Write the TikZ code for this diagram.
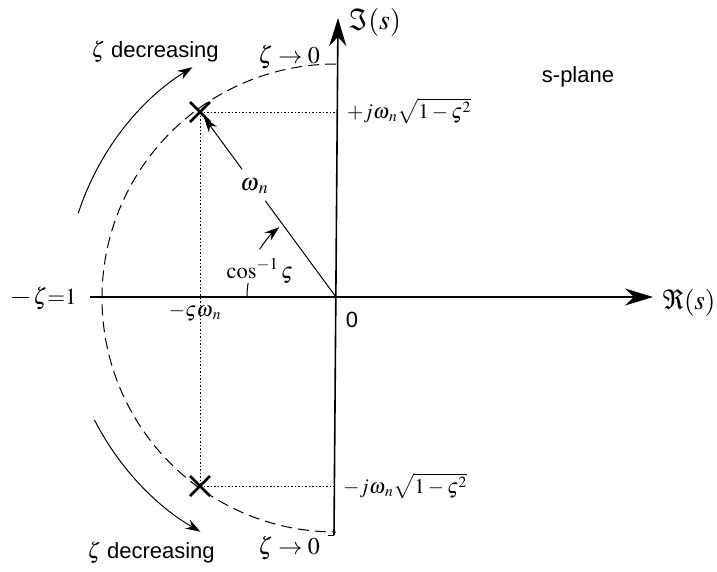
\documentclass[tikz,border=0pt]{standalone}
\usepackage{mathptmx}
\usepackage[no-math]{fontspec}
\setmainfont{Liberation Sans}
\usetikzlibrary{arrows.meta,calc}
\begin{document}
\begin{tikzpicture}[x=1pt,y=1pt,
  axis/.style={line width=1.6pt,-{Stealth[length=28pt,width=17pt,inset=9pt]}},
  thin arc/.style={line width=1pt},
  small arrow/.style={-{Stealth[length=15pt,width=10pt,inset=5pt]}},
  dashed circle/.style={line width=1pt,dash pattern=on 11pt off 6pt},
  dotted line/.style={line width=1pt,dash pattern=on 1.5pt off 2pt},
  pole/.style={line width=2.6pt},
  mlabel/.style={font=\fontsize{24}{28}\selectfont,inner sep=0pt},
  slabel/.style={font=\fontsize{22}{26}\selectfont,inner sep=0pt}]
\useasboundingbox (0,0) rectangle (717,-571);
% origin
\coordinate (O) at (336,-297);
\coordinate (P1) at (200,-112);
\coordinate (P2) at (200,-486);
\coordinate (xs) at (90,-297);
\coordinate (xe) at (653,-297);
\coordinate (ys) at (334,-535);
\coordinate (ye) at (338,-18);
% axes
\draw[axis] (xs) -- (xe);
\draw[axis] (ys) -- (ye);
\draw[line width=1pt] (ys) -- ++(-6,0);
% dashed semicircle
\draw[dashed circle] ($(O)+(90:233)$) arc[start angle=90,end angle=270,radius=234];
% decreasing arcs
\draw[thin arc,small arrow] ($(O)+(162:271)$) arc[start angle=162,end angle=122,radius=271];
\draw[thin arc,small arrow] ($(O)+(207:271)$) arc[start angle=207,end angle=240,radius=271];
% dotted projections
\draw[dotted line] (P1) -- (P2);
\draw[dotted line] (P1) -- (P1 -| O);
\draw[dotted line] (P2) -- (P2 -| O);
% omega_n vector
\node[mlabel] (wn) at ($(O)!0.6!(P1)$) {$\omega_{\,n}$};
\draw[line width=1pt] (O) -- ($(O)!0.52!(P1)$);
\draw[line width=1pt,small arrow] ($(O)!0.69!(P1)$) -- ($(O)!0.97!(P1)$);
% angle arc
\draw[line width=1pt] ($(O)+(180:89)$) arc[start angle=180,end angle=171,radius=89];
\draw[line width=1pt,small arrow] ($(O)+(148:90)$) arc[start angle=148,end angle=129,radius=90];
\node[mlabel,font=\fontsize{22.5}{27}\selectfont] (cosl) at (260,-271) {$\cos^{-1}\varsigma$};
% poles
\draw[pole] ($(P1)+(-10,10)$) -- ($(P1)+(10,-10)$);
\draw[pole] ($(P1)+(-10,-10)$) -- ($(P1)+(10,10)$);
\draw[pole] ($(P2)+(-10,10)$) -- ($(P2)+(10,-10)$);
\draw[pole] ($(P2)+(-10,-10)$) -- ($(P2)+(10,10)$);
% labels
\node[slabel] (dec1) at (155,-52) {$\zeta$ decreasing};
\node[slabel] (dec2) at (151,-553) {$\zeta$ decreasing};
\node[mlabel] (z0a) at (289,-57) {$\zeta\rightarrow0$};
\node[mlabel] (z0b) at (289,-548) {$\zeta\rightarrow0$};
\node[mlabel,font=\fontsize{28}{32}\selectfont] (im) at (375,-22) {$\Im(s)$};
\node[mlabel,font=\fontsize{27}{32}\selectfont] (re) at (689,-303) {$\Re(s)$};
\node[slabel] (sp) at (578,-77) {s-plane};
\node[mlabel,anchor=west,font=\fontsize{21}{25}\selectfont] (jp) at (347,-111) {$+j\omega_{\,n}\sqrt{1-\varsigma^2}$};
\node[mlabel,anchor=west,font=\fontsize{21}{25}\selectfont] (jm) at (343,-486) {$-j\omega_{\,n}\sqrt{1-\varsigma^2}$};
\node[mlabel,font=\fontsize{21}{25}\selectfont] (sw) at (195,-313) {$-\varsigma\omega_{\,n}$};
\node[slabel] (zero) at (352,-320) {0};
\node[mlabel,font=\fontsize{23}{27}\selectfont,anchor=west] (z1) at (12,-298) {\rule[0.27em]{17pt}{1pt}\,$\zeta{=}1$};
\end{tikzpicture}
\end{document}
